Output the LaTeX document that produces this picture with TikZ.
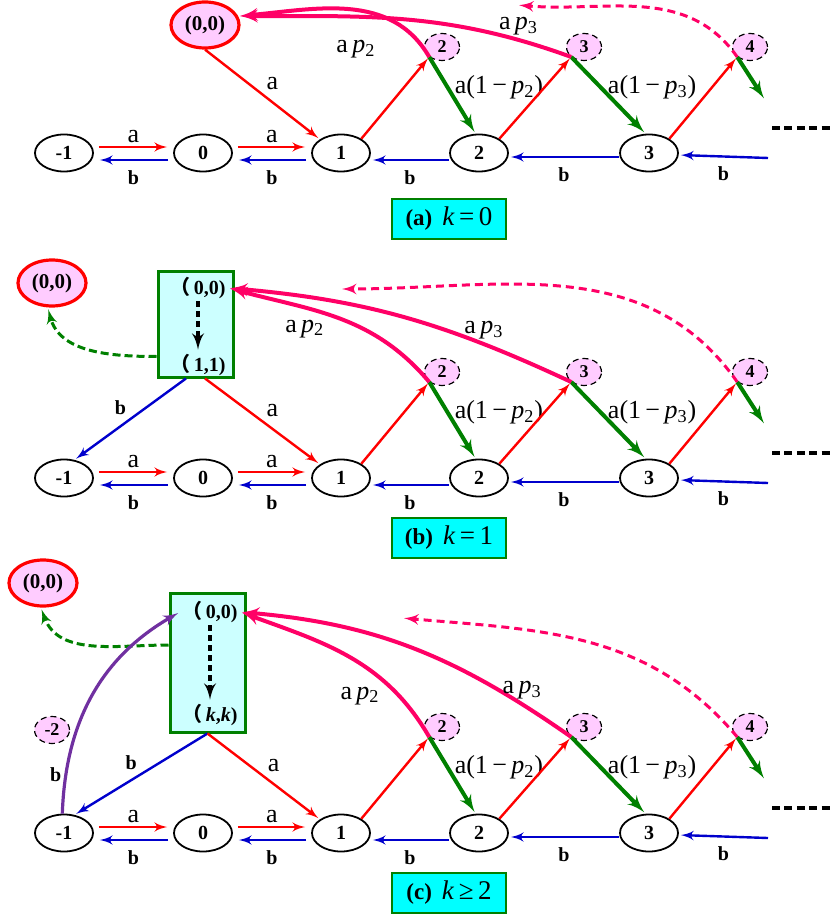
\documentclass[tikz,border=0pt]{standalone}
\usepackage{fontspec}
\setmainfont{Liberation Serif}
\newfontfamily\cjk{Noto Sans CJK SC}
\usepackage{tikz}
\usetikzlibrary{positioning,arrows,shapes.geometric}

\definecolor{hot}{RGB}{255,0,102}
\definecolor{blush}{RGB}{255,204,255}
\definecolor{ice}{RGB}{204,255,255}
\definecolor{aqua}{RGB}{0,255,255}
\definecolor{leaf}{RGB}{0,128,0}
\definecolor{deepblue}{RGB}{0,0,204}
\definecolor{plum}{RGB}{112,48,160}

% one row of levels -1 .. 3 with the jumps up and down
\newcommand{\chainrow}[2]{%
  \node[stage] (#1m1) at (64,#2)  {-1};
  \node[stage] (#1n0) at (203,#2) {0};
  \node[stage] (#1n1) at (341,#2) {1};
  \node[stage] (#1n2) at (479,#2) {2};
  \node[stage] (#1n3) at (649,#2) {3};
  \node[ghost] (#1g2) at (442,#2-106) {2};
  \node[ghost] (#1g3) at (584,#2-106) {3};
  \node[ghost] (#1g4) at (750,#2-106) {4};
  \coordinate (#1in)  at (768,#2+5);
  \coordinate (#1out) at (765,#2-53);

  \draw[fwd,pair] ([yshift=3pt]#1m1.east) -- node[above,lab] {a} ([yshift=3pt]#1n0.west);
  \draw[bwd,pair] ([yshift=-3.5pt]#1n0.west) -- node[below=3pt,blab] {b} ([yshift=-3.5pt]#1m1.east);
  \draw[fwd,pair] ([yshift=3pt]#1n0.east) -- node[above,lab] {a} ([yshift=3pt]#1n1.west);
  \draw[bwd,pair] ([yshift=-3.5pt]#1n1.west) -- node[below=3pt,blab] {b} ([yshift=-3.5pt]#1n0.east);
  \draw[bwd] ([yshift=-3.5pt]#1n2.west) -- node[below=3pt,blab] {b} ([yshift=-3.5pt]#1n1.east);
  \draw[bwd] ([yshift=-2pt]#1n3.west) -- node[below=3pt,blab] {b} ([yshift=-2pt]#1n2.east);
  \draw[bwd] (#1in) -- node[below=3pt,blab] {b} ([yshift=-1pt]#1n3.east);

  \draw[fwd] (#1n1.35) -- (#1g2.south west);
  \draw[drop] (#1g2.south west) -- node[pos=0.4,right=1pt,lab] {a(1\,−\,\textit{p}\textsubscript{2})} (#1n2.100);
  \draw[fwd] (#1n2.35) -- (#1g3.south west);
  \draw[drop] (#1g3.south west) -- node[pos=0.4,right=1pt,lab] {a(1\,−\,\textit{p}\textsubscript{3})} (#1n3.100);
  \draw[fwd] (#1n3.35) -- (#1g4.south west);
  \draw[drop] (#1g4.south west) -- (#1out);
  \draw[-,line width=2pt,dash pattern=on 4pt off 2.2pt] (772,#2-25) -- (835,#2-25);
}

\begin{document}
\begin{tikzpicture}[->,>=latex',shorten >=1pt,x=0.5pt,y=-0.5pt,semithick]
  \tikzstyle{stage}=[ellipse,draw=black,line width=0.9pt,minimum width=29pt,minimum height=18.5pt,inner sep=0pt,font=\fontsize{10}{12}\bfseries]
  \tikzstyle{home}=[ellipse,draw=red,fill=blush,line width=1.6pt,minimum width=34pt,minimum height=23pt,inner sep=0pt,font=\fontsize{10.5}{12}\bfseries]
  \tikzstyle{ghost}=[ellipse,draw=black,fill=blush,densely dashed,line width=0.6pt,minimum width=17.5pt,minimum height=13.5pt,inner sep=0pt,font=\fontsize{9}{11}\bfseries]
  \tikzstyle{holder}=[rectangle,draw=leaf,fill=ice,line width=1.5pt,minimum width=37.5pt,minimum height=52.5pt]
  \tikzstyle{boxtxt}=[inner sep=1pt,font=\fontsize{10}{12}\bfseries]
  \tikzstyle{tag}=[rectangle,draw=leaf,fill=aqua,line width=0.8pt,minimum width=57pt,minimum height=20pt,inner sep=2pt]
  \tikzstyle{lab}=[text=black,inner sep=1.5pt,font=\fontsize{13}{15}\selectfont]
  \tikzstyle{blab}=[text=black,inner sep=1.5pt,font=\fontsize{10}{12}\bfseries]
  \tikzstyle{pair}=[shorten <=2.5pt,shorten >=3pt]
  \tikzstyle{fwd}=[red,line width=1.2pt]
  \tikzstyle{bwd}=[deepblue,line width=1.2pt]
  \tikzstyle{drop}=[leaf,line width=2pt]
  \tikzstyle{ret}=[hot,line width=2pt]
  \tikzstyle{retd}=[hot,line width=1.5pt,dash pattern=on 4pt off 2.5pt]
  \tikzstyle{jump}=[black,line width=1.8pt,dash pattern=on 3pt off 2pt]
  \tikzstyle{lapse}=[leaf,line width=1.5pt,dash pattern=on 4pt off 2pt]
  \tikzstyle{loopback}=[plum,line width=1.6pt]

  \useasboundingbox[-] (0,0) rectangle (835,919);

  % (a) k = 0
  \chainrow{a}{153}
  \node[home] (ahome) at (205,25) {(0,0)};
  \coordinate (atip) at (517,5);
  \draw[fwd] (ahome.south) -- node[above right=0pt,lab] {a} (an1.north west);
  \draw[ret] (ag2.south west) to[out=120,in=5] node[pos=0.04,left=22pt,lab] {a\,\textit{p}\textsubscript{2}} (ahome.15);
  \draw[ret] (ag3.south west) to[out=160,in=0] node[pos=0.15,above,lab] {a\,\textit{p}\textsubscript{3}} (ahome.15);
  \draw[retd] (ag4.south west) to[out=125,in=-5] (atip);
  \node[tag] (acap) at (449,219) {{\fontsize{11.5}{13}\bfseries (a)}\hspace{5pt}{\fontsize{13.5}{15}\selectfont\textit{k}\,=\,0}};

  % (b) k = 1
  \chainrow{b}{478}
  \node[home] (bhome) at (52,283) {(0,0)};
  \node[holder] (bbox) at (195.5,324.5) {};
  \node[boxtxt] (btop) at (198,288) {{\cjk （}\,0,0)};
  \node[boxtxt] (bbot) at (198,365) {{\cjk （}\,1,1)};
  \coordinate (btip) at (340,289);
  \draw[jump] (btop) -- (bbot);
  \draw[lapse] ([yshift=-16pt]bbox.west) to[out=180,in=-75] (bhome.-100);
  \draw[bwd] (bbox.-100) -- node[above left=0pt,blab] {b} (bm1.60);
  \draw[fwd] (bbox.-80) -- node[above right=0pt,lab] {a} (bn1.north west);
  \draw[ret] (bg2.south west) to[out=130,in=-15] node[pos=0.55,below left,lab] {a\,\textit{p}\textsubscript{2}} (btop.east);
  \draw[ret] (bg3.south west) to[out=155,in=-5] node[pos=0.25,above,lab] {a\,\textit{p}\textsubscript{3}} (btop.east);
  \draw[retd] (bg4.south west) to[out=125,in=0] (btip);
  \node[tag] (bcap) at (449,538) {{\fontsize{11.5}{13}\bfseries (b)}\hspace{5pt}{\fontsize{13.5}{15}\selectfont\textit{k}\,=\,1}};

  % (c) k >= 2
  \chainrow{c}{833}
  \node[home] (chome) at (43,583) {(0,0)};
  \node[holder,minimum height=69.5pt] (cbox) at (207.5,662.5) {};
  \node[boxtxt] (ctop) at (210,612) {{\cjk （}\,0,0)};
  \node[boxtxt] (cbot) at (210,715) {{\cjk （}\,\textit{k},\textit{k})};
  \node[ghost] (cgm2) at (52,730) {-2};
  \coordinate (ctip) at (402,618);
  \draw[jump] (ctop) -- (cbot);
  \draw[lapse] ([yshift=8.75pt]cbox.west) to[out=180,in=-70] (chome.-95);
  \draw[loopback] (cm1.95) to[out=88,in=210] node[pos=0.15,left,blab] {b} (ctop.west);
  \draw[bwd] (cbox.south) -- node[above left=0pt,blab] {b} (cm1.60);
  \draw[fwd] (cbox.south) -- node[above right=0pt,lab] {a} (cn1.north west);
  \draw[ret] (cg2.south west) to[out=120,in=-20] node[pos=0.3,below left,lab] {a\,\textit{p}\textsubscript{2}} (ctop.east);
  \draw[ret] (cg3.south west) to[out=145,in=-5] node[pos=0.15,above,lab] {a\,\textit{p}\textsubscript{3}} (ctop.east);
  \draw[retd] (cg4.south west) to[out=130,in=-5] (ctip);
  \node[tag] (ccap) at (449,893) {{\fontsize{11.5}{13}\bfseries (c)}\hspace{5pt}{\fontsize{13.5}{15}\selectfont\textit{k}\,≥\,2}};
\end{tikzpicture}
\end{document}
